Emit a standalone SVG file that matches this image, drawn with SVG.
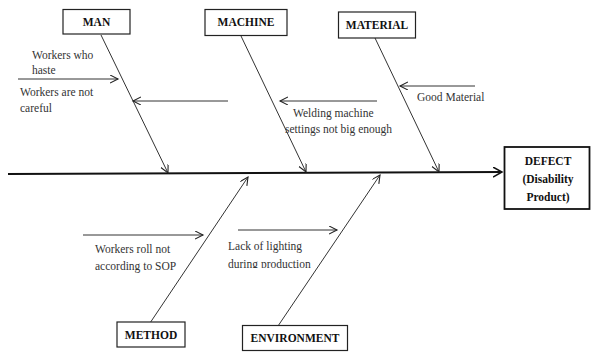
<svg xmlns="http://www.w3.org/2000/svg" width="591" height="353" viewBox="0 0 591 353">
<style>
.box{fill:#fff;stroke:#222;stroke-width:1.2}
.hd{font-family:"Liberation Serif","Times New Roman",serif;font-weight:bold;font-size:11.5px;fill:#111;text-anchor:middle}
.lb{font-family:"Liberation Serif","Times New Roman",serif;font-size:11.5px;fill:#333}
.bone{stroke:#333;stroke-width:1;fill:none}
.spine{stroke:#111;stroke-width:1.8;fill:none}
</style>
<defs>
<marker id="ah" markerWidth="10" markerHeight="10" refX="8" refY="4" orient="auto" markerUnits="userSpaceOnUse">
<path d="M0,0 L8,4 L0,8" fill="none" stroke="#222" stroke-width="1.1"/>
</marker>
<marker id="ah2" markerWidth="12" markerHeight="12" refX="9" refY="5" orient="auto" markerUnits="userSpaceOnUse">
<path d="M0,0 L9,5 L0,10" fill="none" stroke="#111" stroke-width="1.5"/>
</marker>
<clipPath id="cut"><rect x="0" y="0" width="591" height="268"/></clipPath>
</defs>
<rect width="591" height="353" fill="#fff"/>
<g id="connectors">
<line class="spine" x1="8" y1="174" x2="502" y2="172" marker-end="url(#ah2)"/>
<line class="bone" x1="101" y1="35" x2="168" y2="173" marker-end="url(#ah)"/>
<line class="bone" x1="241" y1="36" x2="306" y2="172" marker-end="url(#ah)"/>
<line class="bone" x1="375" y1="38" x2="439" y2="172" marker-end="url(#ah)"/>
<line class="bone" x1="150" y1="323" x2="248" y2="177" marker-end="url(#ah)"/>
<line class="bone" x1="278" y1="326" x2="380" y2="175" marker-end="url(#ah)"/>
<line class="bone" x1="18" y1="79" x2="118" y2="79" marker-end="url(#ah)"/>
<line class="bone" x1="228" y1="101" x2="133" y2="101" marker-end="url(#ah)"/>
<line class="bone" x1="377" y1="101" x2="280" y2="101" marker-end="url(#ah)"/>
<line class="bone" x1="475" y1="86" x2="400" y2="86" marker-end="url(#ah)"/>
<line class="bone" x1="83" y1="235" x2="203" y2="235" marker-end="url(#ah)"/>
<line class="bone" x1="238" y1="230" x2="337" y2="230" marker-end="url(#ah)"/>
</g>
<g id="man"><rect class="box" x="63" y="9.5" width="67" height="24.5"/><text class="hd" x="96.5" y="25.5">MAN</text></g>
<g id="machine"><rect class="box" x="205" y="9.5" width="82" height="26"/><text class="hd" x="246" y="26">MACHINE</text></g>
<g id="material"><rect class="box" x="338.5" y="12" width="77" height="26"/><text class="hd" x="377" y="28.5">MATERIAL</text></g>
<g id="method"><rect class="box" x="117" y="322" width="68" height="25"/><text class="hd" x="151" y="338.5">METHOD</text></g>
<g id="environment"><rect class="box" x="242.5" y="325.5" width="105" height="25"/><text class="hd" x="295" y="342">ENVIRONMENT</text></g>
<g id="defect"><rect x="504.5" y="147" width="85" height="62" fill="#fff" stroke="#111" stroke-width="1.8"/>
<text class="hd" x="548" y="165">DEFECT</text><text class="hd" x="548" y="183">(Disability</text><text class="hd" x="548" y="200.5">Product)</text></g>
<g id="causes">
<text class="lb" x="32" y="59">Workers who</text><text class="lb" x="32" y="74">haste</text>
<text class="lb" x="20" y="95.5">Workers are not</text><text class="lb" x="20" y="111.5">careful</text>
<text class="lb" x="293" y="117">Welding machine</text><text class="lb" x="285" y="133">settings not big enough</text>
<text class="lb" x="417" y="101">Good Material</text>
<text class="lb" x="95" y="253">Workers roll not</text><text class="lb" x="95" y="270">according to SOP</text>
<text class="lb" x="228" y="250">Lack of lighting</text><text class="lb" x="228" y="267.5" clip-path="url(#cut)">during production</text>
</g>
</svg>
